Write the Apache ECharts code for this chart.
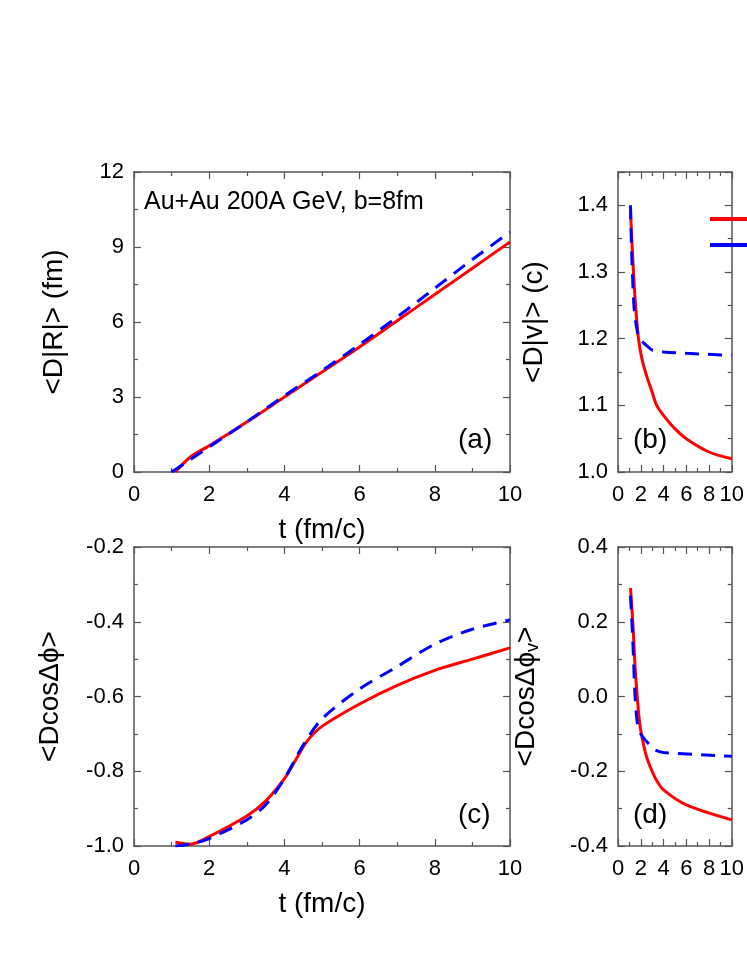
<!DOCTYPE html>
<html><head><meta charset="utf-8">
<script src="https://cdn.jsdelivr.net/npm/echarts@6/dist/echarts.min.js"></script>
<style>html,body{margin:0;padding:0;background:#fff}#c{width:747px;height:967px}</style>
</head><body><div id="c"></div>
<script>
const aRed = [[1.1,0],[1.5,0.6],[2,1.05],[3,2.0],[4,3.0],[5,4.0],[6,5.0],[7,6.05],[8,7.1],[9,8.15],[10,9.2]];
const aBlue = [[1.0,0],[1.5,0.5],[2,1.0],[3,2.0],[4,3.05],[5,4.05],[6,5.1],[7,6.2],[8,7.35],[9,8.5],[10,9.6]];
const bRed = [[1.1,1.39],[1.3,1.32],[1.5,1.26],[1.8,1.2],[2.1,1.17],[2.5,1.145],[3,1.12],[3.4,1.1],[4,1.085],[5,1.065],[6,1.05],[8,1.03],[10,1.02]];
const bBlue = [[1.1,1.40],[1.2,1.33],[1.4,1.25],[1.6,1.22],[1.9,1.2],[2.5,1.19],[3,1.183],[4,1.18],[6,1.178],[10,1.175]];
const cRed = [[1.1,-0.99],[1.5,-0.995],[2,-0.975],[3,-0.92],[3.5,-0.88],[4,-0.82],[4.3,-0.77],[4.6,-0.72],[5,-0.68],[6,-0.62],[7,-0.57],[8,-0.53],[9,-0.5],[10,-0.47]];
const cBlue = [[1.1,-1.0],[1.5,-0.995],[2,-0.98],[3,-0.93],[3.5,-0.89],[4,-0.82],[4.5,-0.73],[5,-0.66],[6,-0.58],[7,-0.52],[8,-0.46],[9,-0.42],[10,-0.395]];
const dRed = [[1.1,0.29],[1.3,0.2],[1.5,0.08],[1.8,-0.04],[2,-0.09],[2.5,-0.16],[3,-0.2],[3.4,-0.225],[4,-0.25],[6,-0.29],[10,-0.33]];
const dBlue = [[1.1,0.27],[1.3,0.15],[1.5,0.0],[1.7,-0.07],[2,-0.1],[2.5,-0.12],[3,-0.135],[3.4,-0.145],[4,-0.15],[10,-0.16]];
const xTicks = [0,2,4,6,8,10];

const F='Liberation Sans, Arial, sans-serif';
const grids=[
 {left:134,top:172,right:237,bottom:495},
 {left:618,top:172,right:-247,bottom:495},
 {left:134,top:547,right:237,bottom:121},
 {left:618,top:547,right:-247,bottom:121}
];
const yr=[[0,12,3,0],[1.0,1.45,0.1,1],[-1.0,-0.2,0.2,1],[-0.4,0.4,0.2,1]];
const yNames=['<D|R|> (fm)','<D|v|> (c)','<Dcos\u0394\u03d5>','{a|<Dcos\u0394\u03d5}{s|v}{a|>}'];
const line={onZero:false,lineStyle:{color:'#555',width:1.5}};
const tick={show:true,inside:true,length:7,lineStyle:{color:'#555',width:1.2}};
const minor={show:true,splitNumber:2,length:4,lineStyle:{color:'#555',width:1.2}};
const xAxis=[],yAxis=[],series=[];
grids.forEach((g,i)=>{
  const left=i%2===0;
  xAxis.push({type:'value',gridIndex:i,min:0,max:10,interval:2,position:'bottom',axisLine:line,axisTick:tick,minorTick:minor,splitLine:{show:false},
    axisLabel:{fontFamily:F,fontSize:22,color:'#000',margin:12,formatter:v=>xTicks.includes(v)?String(v):''},
    name:left?'t (fm/c)':'',nameLocation:'middle',nameGap:44,nameTextStyle:{fontFamily:F,fontSize:28,color:'#000'}});
  xAxis.push({type:'value',gridIndex:i,min:0,max:10,interval:2,position:'top',axisLine:line,axisTick:tick,minorTick:minor,splitLine:{show:false},axisLabel:{show:false}});
  const r=yr[i];
  yAxis.push({type:'value',gridIndex:i,min:r[0],max:r[1],interval:r[2],position:'left',axisLine:line,axisTick:tick,minorTick:minor,splitLine:{show:false},
    axisLabel:{fontFamily:F,fontSize:22,color:'#000',margin:10,formatter:v=>(v>r[1]-1e-9&&i===1)?'':(r[3]?v.toFixed(1):String(v))},
    name:yNames[i],nameLocation:'middle',nameGap:i===0?66:(i===3?76:70),
    nameTextStyle:{fontFamily:F,fontSize:28,color:'#000',rich:{a:{fontFamily:F,fontSize:28,color:'#000'},s:{fontFamily:F,fontSize:18,color:'#000',padding:[14,0,0,0]}}}});
  yAxis.push({type:'value',gridIndex:i,min:r[0],max:r[1],interval:r[2],position:'right',axisLine:line,axisTick:tick,minorTick:minor,splitLine:{show:false},axisLabel:{show:false}});
});
const sets=[[aRed,aBlue],[bRed,bBlue],[cRed,cBlue],[dRed,dBlue]];
sets.forEach((s,i)=>{
  series.push({type:'line',name:'red',xAxisIndex:2*i,yAxisIndex:2*i,data:s[0],showSymbol:false,smooth:0.3,clip:true,lineStyle:{color:'#ff0000',width:3},itemStyle:{color:'#ff0000'},z:3});
  series.push({type:'line',name:'blue',xAxisIndex:2*i,yAxisIndex:2*i,data:s[1],showSymbol:false,smooth:0.3,clip:true,lineStyle:{color:'#0000ff',width:3,type:[14,9]},itemStyle:{color:'#0000ff'},z:4});
});
const chart=echarts.init(document.getElementById('c'));
chart.setOption({
  animation:false,
  grid:grids,xAxis,yAxis,series,
  legend:{left:705,top:212,orient:'vertical',itemGap:22,itemWidth:60,itemHeight:4,icon:'rect',
    textStyle:{fontFamily:F,fontSize:20,color:'#000'},data:['red','blue'],formatter:()=>''},
  graphic:[
    {type:'text',left:144,top:190,style:{text:'Au+Au 200A GeV, b=8fm',font:'25px '+F,fill:'#000'}},
    {type:'text',left:458,top:426,style:{text:'(a)',font:'28px '+F,fill:'#000'}},
    {type:'text',left:633,top:426,style:{text:'(b)',font:'28px '+F,fill:'#000'}},
    {type:'text',left:458,top:801,style:{text:'(c)',font:'28px '+F,fill:'#000'}},
    {type:'text',left:633,top:801,style:{text:'(d)',font:'28px '+F,fill:'#000'}}
  ]
});
</script></body></html>
